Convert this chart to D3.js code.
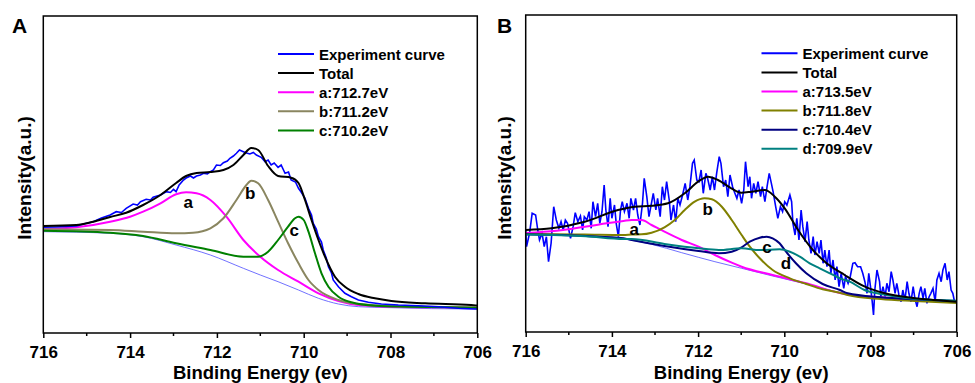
<!DOCTYPE html>
<html>
<head>
<meta charset="utf-8">
<script src="https://cdn.jsdelivr.net/npm/d3@7"></script>
<style>
  html, body { margin: 0; padding: 0; background: #fff; }
  svg text { font-family: "Liberation Sans", Arial, sans-serif; font-weight: bold; }
</style>
</head>
<body>
<svg id="chart" width="975" height="383"></svg>
<script>
// x ticks (binding energy, eV)
const majorTicks = [716, 714, 712, 710, 708, 706];
const minorTicks = [715, 713, 711, 709, 707];

// ---- panel A : [binding energy, intensity (a.u.)] ----
const expA = [[716,105.7],[715.72,106],[715.47,106.5],[715.24,107],[715.03,109.5],[714.85,111.3],[714.66,115],[714.46,118],
  [714.32,121.3],[714.2,120.5],[714.09,124.7],[713.93,129],[713.83,128],[713.76,131.3],[713.63,133.7],[713.53,133],[713.47,135.7],
  [713.3,138],[713.17,141.3],[713.07,140.5],[713,143.7],[712.94,141.3],[712.87,148],[712.77,153],[712.71,155],[712.61,157],
  [712.54,155],[712.47,157],[712.38,158],[712.31,159.7],[712.22,159],[712.15,161.3],[712.08,163],[712.01,168],[711.92,167.5],
  [711.85,170.3],[711.76,172],[711.7,174.7],[711.62,177],[711.55,179.7],[711.48,183],[711.39,181.3],[711.32,180],[711.24,179],
  [711.16,180.5],[711.09,178],[710.98,175.7],[710.89,171.3],[710.82,173],[710.75,168],[710.68,170],[710.59,165.7],[710.52,168],
  [710.43,159.7],[710.35,161],[710.29,153],[710.19,151],[710.12,144.7],[710.06,141],[709.97,134.7],[709.89,124.7],[709.82,118],
  [709.78,109.7],[709.71,104],[709.66,96.3],[709.59,91],[709.55,83],[709.48,75],[709.43,66.3],[709.36,60],[709.32,53],
  [709.2,46.3],[709.05,39.7],[708.9,36.3],[708.74,33],[708.51,30.7],[708.21,29],[707.82,28],[707.36,27.3],[706.9,26.3],
  [706.44,24.7],[706.05,24],[706,24]];
const totalA = [[716,107],[715.24,108],[714.85,111.3],[714.46,116],[714.09,120.3],[713.7,128],[713.3,138],[712.94,150],[712.71,157],
  [712.47,160],[712.15,161],[711.85,163],[711.62,168],[711.39,178],[711.21,185],[711.05,183],[710.82,167],[710.59,157],
  [710.29,155.3],[710.12,150],[709.97,133],[709.82,113],[709.66,93],[709.51,76.3],[709.28,56.3],[709.05,46.3],[708.74,39],
  [708.36,34.7],[707.98,32],[707.2,29.7],[706.14,28],[706,27.5]];
const bgA = [[716,101.3],[714.46,99.7],[713.7,96.3],[712.94,88],[712.15,78],[711.39,64.7],[711,58],[710.59,51.3],[710.12,43],
  [709.66,34.7],[709.2,29],[708.74,26.3],[707.98,25.3],[706.14,24],[706,24]];
const peakAa = [[716,103.7],[715.24,105.7],[714.46,111.3],[714,116.3],[713.7,121.3],[713.3,129.7],[712.94,138.7],[712.71,140.7],
  [712.47,139.7],[712.15,133],[711.78,116.3],[711.39,93],[711,76.3],[710.59,63],[710.12,51.3],[709.66,39.7],[709.2,32],
  [708.74,28],[707.98,26.3],[706.14,25.3],[706,25.2]];
const peakAb = [[716,103.7],[714.46,103],[713.7,101.3],[712.94,99.7],[712.55,100.3],[712.15,104.7],[711.85,114.7],[711.55,133],
  [711.32,148],[711.21,152.3],[711.05,149.7],[710.82,133],[710.59,111.3],[710.36,89.7],[710.12,69.7],[709.89,53],[709.66,43],
  [709.2,33],[708.74,29],[707.98,27],[706.14,25.7],[706,25.6]];
const peakAc = [[716,102.3],[714.46,100.3],[713.7,97],[712.94,89.7],[712.15,83],[711.39,76.3],[711.05,76.3],[710.82,81.3],
  [710.59,93],[710.36,106.3],[710.2,114.7],[710.12,116.3],[710,113],[709.89,101.3],[709.74,79.7],[709.59,59.7],[709.43,46.3],
  [709.2,36.3],[708.9,30.7],[708.36,27.3],[707.59,26.3],[706.14,25.3],[706,25.2]];
const legendA = ["Experiment curve", "Total", "a:712.7eV", "b:711.2eV", "c:710.2eV"];
const peakLabelsA = [["a", 712.66, 131], ["b", 711.23, 140], ["c", 710.22, 103]];

// ---- panel B ----
const expB = [[716,101.3],[715.98,85.3],[715.91,99],[715.85,118.7],[715.77,117],[715.72,102],[715.68,92],[715.62,98.7],
  [715.57,85.3],[715.52,95.3],[715.47,70.3],[715.41,89],[715.35,125.3],[715.29,112],[715.23,103.7],[715.18,110.3],[715.13,102],
  [715.08,112],[715.03,108.7],[714.96,93.7],[714.9,105.3],[714.85,119.3],[714.79,110.3],[714.73,116],[714.68,102],[714.64,115.3],
  [714.58,112],[714.53,120.3],[714.48,103.7],[714.44,130.3],[714.38,115.3],[714.33,128.7],[714.28,108.7],[714.23,120.3],
  [714.18,147],[714.14,122],[714.09,105.3],[714.04,133.7],[714,113.7],[713.94,127],[713.9,108.7],[713.85,95.3],[713.8,122],
  [713.76,130.3],[713.71,120.3],[713.65,128.7],[713.6,113.7],[713.56,133.7],[713.5,122],[713.45,133.7],[713.4,117],[713.35,107],
  [713.29,128.7],[713.25,153.7],[713.19,135.3],[713.14,115.3],[713.09,127],[713.04,138.7],[712.98,122],[712.94,133.7],
  [712.88,115.3],[712.83,145.3],[712.78,132],[712.73,150.3],[712.67,132],[712.63,112],[712.57,127],[712.52,110.3],[712.47,133.7],
  [712.42,127],[712.36,137],[712.3,148.7],[712.24,132],[712.19,145.3],[712.13,168.7],[712.09,172],[712.03,152],[711.98,150.3],
  [711.93,162],[711.88,138.7],[711.82,158.7],[711.78,153.7],[711.72,142],[711.67,155.3],[711.62,142],[711.57,158.7],
  [711.51,175.3],[711.47,168.7],[711.41,145.3],[711.36,152],[711.31,135.3],[711.26,157],[711.2,145.3],[711.16,140.3],
  [711.1,133.7],[711.05,142],[710.99,128.7],[710.94,142],[710.9,170.3],[710.84,145.3],[710.8,155.3],[710.76,133.7],[710.71,148.7],
  [710.66,138.7],[710.61,150.3],[710.55,135.3],[710.51,145.3],[710.45,130.3],[710.4,145.3],[710.35,158.7],[710.3,148.7],
  [710.26,140.3],[710.2,125.3],[710.15,113.7],[710.09,125.3],[710.04,120.3],[709.99,130.3],[709.94,127],[709.87,137],
  [709.83,130.3],[709.8,108.7],[709.75,97],[709.71,113.7],[709.66,92],[709.61,122],[709.57,105.3],[709.52,90.3],[709.47,110.3],
  [709.43,92],[709.38,78.7],[709.33,95.3],[709.29,77],[709.24,90.3],[709.19,78.7],[709.15,92],[709.1,68.7],[709.06,82],
  [709.01,65.3],[708.96,82],[708.92,58.7],[708.87,72],[708.82,52],[708.78,65.3],[708.73,45.3],[708.68,58.7],[708.62,43.7],
  [708.58,55.3],[708.52,48.7],[708.47,55.3],[708.41,68.7],[708.36,69.3],[708.3,65.3],[708.23,65.3],[708.18,58.7],[708.13,50.3],
  [708.08,38.7],[708.04,58.7],[708,45.3],[707.96,30.3],[707.93,17],[707.9,42],[707.85,62],[707.79,50.3],[707.76,35.3],
  [707.71,45.3],[707.66,35.3],[707.62,48.7],[707.57,40.3],[707.52,60.3],[707.48,52],[707.43,38.7],[707.39,48.7],[707.34,37],
  [707.29,30.3],[707.25,42],[707.2,32],[707.15,50.3],[707.11,38.7],[707.06,30.3],[707.01,45.3],[706.97,33.7],[706.92,25.3],
  [706.87,38.7],[706.83,45.3],[706.78,33.7],[706.74,43.7],[706.69,28.7],[706.64,35.3],[706.6,38.7],[706.55,43.7],[706.5,30.3],
  [706.46,52],[706.41,58.7],[706.36,50.3],[706.32,62],[706.27,68.7],[706.22,52],[706.18,60.3],[706.13,42],[706.09,38.7],
  [706.05,30.3],[706,30]];
const totalB = [[716,102],[715.4,103.7],[714.63,110.3],[713.86,122],[713.47,125.3],[713.08,126.3],[712.7,128.7],[712.31,138.7],
  [712,150.3],[711.77,155.3],[711.54,152],[711.23,143.7],[711,139.3],[710.76,140.3],[710.45,142],[710.22,135.3],[709.99,123.7],
  [709.68,102],[709.37,83.7],[709.06,70.3],[708.6,57],[708.13,45.3],[707.67,38.7],[707.05,34.3],[706.51,32],[706,30.3]];
const bgB = [[716,98.5],[714.6,96.5],[713.54,91.7],[713.08,87.7],[712.38,79.3],[711.61,70.3],[710.99,63.7],[710.27,56],
  [709.49,48],[708.71,39.5],[707.76,34],[706.98,32],[706,30]];
const peakBa = [[716,99],[715.28,101.3],[714.5,106],[714.12,108.7],[713.73,111],[713.54,112],[713.31,112],[713.08,107],
  [712.78,100.3],[712.38,92],[711.99,85.3],[711.61,77],[711.22,69.3],[710.99,65.3],[710.27,57],[709.49,48.7],[708.71,39],
  [708.53,37.5],[707.76,34.7],[706.98,32.7],[706,30.3]];
const peakBb = [[716,98],[714.63,97.5],[713.73,97],[713.54,97.5],[713.31,97.7],[713.08,99.3],[712.78,104.7],[712.54,112],
  [712.31,122],[712.08,130.3],[711.85,133.7],[711.68,132.7],[711.45,125.3],[711.22,112],[710.99,97],[710.8,85.3],[710.57,73.7],
  [710.27,62],[709.87,53.7],[709.49,48],[709.11,42.7],[708.71,39.3],[708.53,37],[707.76,33],[706.98,31],[706,29]];
const peakBc = [[716,97.7],[714.6,96],[713.73,93.7],[713.54,92],[712.78,86],[711.99,81],[711.52,78.7],[711.22,80.3],
  [710.99,84.7],[710.8,90.3],[710.57,94.3],[710.41,95.3],[710.27,93.7],[710.11,88.7],[709.96,80.3],[709.73,68.7],[709.49,58.7],
  [709.11,48],[708.71,42],[708.53,38.7],[707.76,34.7],[706.98,32.7],[706,31]];
const peakBd = [[716,97.5],[714.6,95.7],[713.73,93],[713.54,93],[712.78,88],[711.99,83.7],[711.52,82],[710.99,83.7],
  [710.57,82],[710.11,82.7],[709.87,80.3],[709.64,75.3],[709.41,68.7],[709.18,63.7],[708.94,58.7],[708.71,53.7],[708.48,50.3],
  [708.14,42],[707.76,38],[707.37,35.3],[706.98,33.3],[706,31.3]];
const legendB = ["Experiment curve", "Total", "a:713.5eV", "b:711.8eV", "c:710.4eV", "d:709.9eV"];
const peakLabelsB = [["a", 713.48, 103], ["b", 711.78, 123], ["c", 710.4, 85], ["d", 709.96, 69]];

const svg = d3.select("#chart");
svg.append("rect").attr("width", 975).attr("height", 383).attr("fill", "#fff");

function drawPanel(p) {
  const x = d3.scaleLinear().domain([716, 706]).range([p.left, p.right]);
  const y = d3.scaleLinear().domain([0, 317]).range([p.bottom, p.top]);
  const g = svg.append("g");

  const clipId = "clip" + p.letter;
  g.append("clipPath").attr("id", clipId).append("rect")
    .attr("x", p.left).attr("y", p.top).attr("width", p.right - p.left).attr("height", p.bottom - p.top);

  const smooth = d3.line().x(d => x(d[0])).y(d => y(d[1])).curve(d3.curveMonotoneX);
  const raw = d3.line().x(d => x(d[0])).y(d => y(d[1]));

  const plot = g.append("g").attr("clip-path", `url(#${clipId})`);
  // background first, then components, then experiment and total on top
  plot.append("path").attr("d", smooth(p.bg)).attr("fill", "none").attr("stroke", "#4d4dff").attr("stroke-width", 0.8);
  if (p.exp_first) plot.append("path").attr("d", raw(p.exp)).attr("fill", "none").attr("stroke", "#0000ff").attr("stroke-width", 1.6);
  p.peaks.forEach(pk => {
    plot.append("path").attr("d", smooth(pk.data)).attr("fill", "none").attr("stroke", pk.color).attr("stroke-width", 2);
  });
  if (!p.exp_first) plot.append("path").attr("d", raw(p.exp)).attr("fill", "none").attr("stroke", "#0000ff").attr("stroke-width", 1.6);
  plot.append("path").attr("d", smooth(p.total)).attr("fill", "none").attr("stroke", "#000").attr("stroke-width", 2);

  // peak letters
  g.selectAll(".pl").data(p.labels).enter().append("text")
    .attr("x", d => x(d[1])).attr("y", d => y(d[2]) + 6)
    .attr("text-anchor", "middle").attr("font-size", 17).text(d => d[0]);

  // frame
  g.append("rect").attr("x", p.left).attr("y", p.top).attr("width", p.right - p.left).attr("height", p.bottom - p.top)
    .attr("fill", "none").attr("stroke", "#000").attr("stroke-width", 1.5);

  // x axis
  const ax = g.append("g").attr("transform", `translate(0,${p.bottom})`)
    .call(d3.axisBottom(x).tickValues(majorTicks).tickFormat(d3.format("d")).tickSize(5).tickPadding(8));
  ax.select(".domain").remove();
  ax.selectAll("line").attr("stroke-width", 1.5);
  ax.selectAll("text").attr("font-size", 17).attr("font-family", "Liberation Sans, Arial").attr("font-weight", "bold").attr("fill", "#000");
  g.selectAll(".minor").data(minorTicks).enter().append("line")
    .attr("x1", d => x(d)).attr("x2", d => x(d)).attr("y1", p.bottom).attr("y2", p.bottom + 3)
    .attr("stroke", "#000").attr("stroke-width", 1.5);

  g.append("text").attr("x", (p.left + p.right) / 2).attr("y", 379).attr("text-anchor", "middle")
    .attr("font-size", 18.5).text("Binding Energy (ev)");
  g.append("text").attr("transform", `translate(${p.ytitleX},178) rotate(-90)`).attr("text-anchor", "middle")
    .attr("font-size", 19).text("Intensity(a.u.)");
  g.append("text").attr("x", p.letterX).attr("y", 33).attr("font-size", 21).text(p.letter);

  // legend
  const colors = ["#0000ff", "#000000"].concat(p.peaks.map(d => d.color));
  const lg = g.selectAll(".lg").data(p.legend).enter().append("g")
    .attr("transform", (d, i) => `translate(${p.legX},${p.legY + i * 19.1})`);
  lg.append("line").attr("x1", 0).attr("x2", 36).attr("stroke", (d, i) => colors[i]).attr("stroke-width", 2);
  lg.append("text").attr("x", 41).attr("y", 5.5).attr("font-size", 15).text(d => d);
}

drawPanel({
  letter: "A", left: 43.3, right: 477.3, top: 16, bottom: 333,
  ytitleX: 31, letterX: 12, legX: 278, legY: 54,
  exp: expA, total: totalA, bg: bgA, exp_first: false,
  peaks: [{ data: peakAa, color: "#ff00ff" }, { data: peakAb, color: "#8a8660" }, { data: peakAc, color: "#008000" }],
  legend: legendA, labels: peakLabelsA
});
drawPanel({
  letter: "B", left: 525.7, right: 956.7, top: 15, bottom: 332,
  ytitleX: 511, letterX: 497, legX: 761.5, legY: 53.3,
  exp: expB, total: totalB, bg: bgB, exp_first: true,
  peaks: [{ data: peakBa, color: "#ff00ff" }, { data: peakBb, color: "#808000" }, { data: peakBc, color: "#000080" }, { data: peakBd, color: "#008080" }],
  legend: legendB, labels: peakLabelsB
});
</script>
</body>
</html>
